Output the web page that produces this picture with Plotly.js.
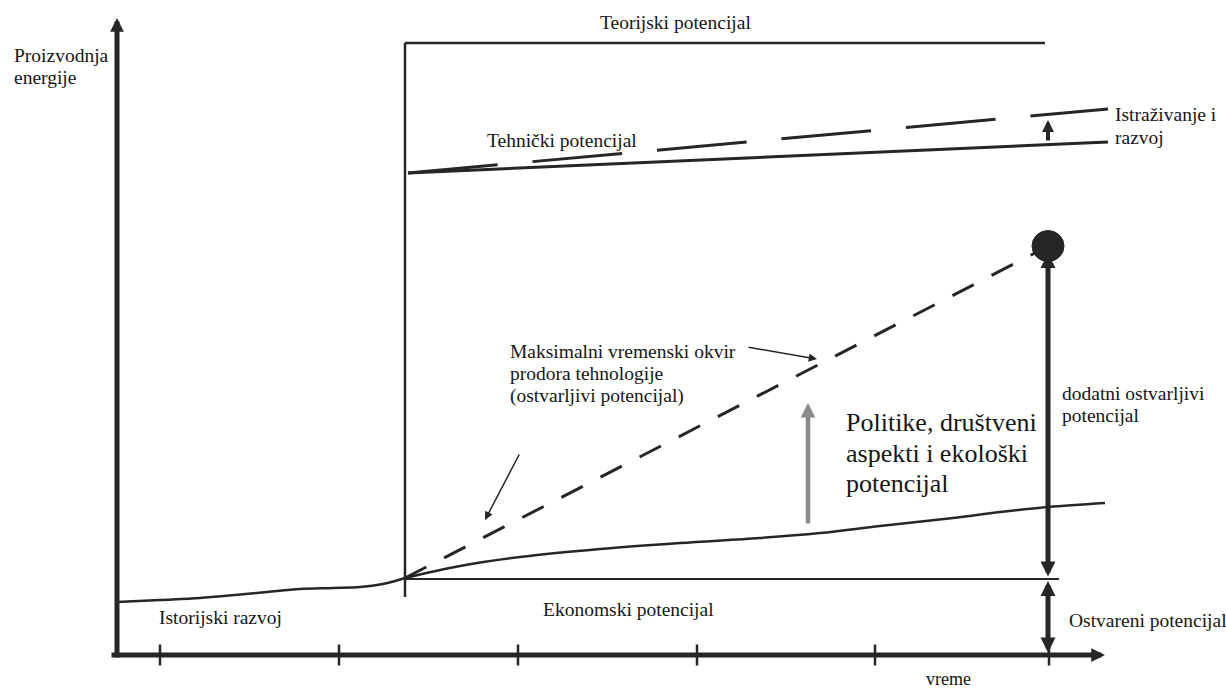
<!DOCTYPE html>
<html>
<head>
<meta charset="utf-8">
<script src="https://cdn.plot.ly/plotly-3.0.1.min.js"></script>
<style>html,body{margin:0;padding:0;background:#fff;}#chart{width:1226px;height:691px;}</style>
</head>
<body>
<div id="chart"></div>
<script>
// ---- Data (time units on x, energy production units on y) ----
const histT  = [0, 43, 83, 118, 150, 183, 216, 243, 266, 278, 288];
const histE  = [53, 55, 57, 60, 63, 66, 67, 68, 71, 74, 77];
const realT  = [288, 343, 403, 483, 563, 643, 703, 763, 836, 883, 931, 988];
const realE  = [77, 89, 98, 106, 112, 117, 122, 129, 137, 143, 148, 152];
const techT  = [291, 991];
const techE  = [482, 513];
const rdT    = [291, 991];
const rdE    = [482, 546];
const feasT  = [288, 918];
const feasE  = [77, 402];
const theorT = [288, 928];
const theorE = [612, 612];
const econT  = [288, 942];
const econE  = [76, 76];
const sepT   = [288, 288];
const sepE   = [58, 612];
const tickT  = [43, 222, 401, 580, 758, 932];
const targetT = 931;           // time horizon of the feasible target
const targetE = 409;           // feasible potential at horizon
const realizedAtHorizon = 77;  // economic level at horizon
const policyT = 691;
const policyE = [130, 252];

const labels = {
  yTitle: ["Proizvodnja", "energije"],
  xTitle: "vreme",
  theor: "Teorijski potencijal",
  tech: "Tehnički potencijal",
  rd: ["Istraživanje i", "razvoj"],
  feas: ["Maksimalni vremenski okvir", "prodora tehnologije", "(ostvarljivi potencijal)"],
  policy: ["Politike, društveni", "aspekti i ekološki", "potencijal"],
  extra: ["dodatni ostvarljivi", "potencijal"],
  hist: "Istorijski razvoj",
  econ: "Ekonomski potencijal",
  realized: "Ostvareni potencijal"
};

const INK = '#262626';
const TXT = '#161616';
const FONT = "'Liberation Serif', 'DejaVu Serif', serif";

function line(x, y, opts) {
  return {
    x: x, y: y, type: 'scatter', mode: 'lines', hoverinfo: 'skip',
    line: Object.assign({color: INK, width: 3}, opts.line || {})
  };
}

const traces = [
  line(histT, histE, {line: {shape: 'spline', width: 2.5}}),
  line(realT, realE, {line: {shape: 'spline', width: 2.5}}),
  line(techT, techE, {line: {width: 3}}),
  line(rdT, rdE, {line: {width: 3, dash: '90px,35px'}}),
  line(feasT, feasE, {line: {width: 3, dash: '24px,20px'}}),
  line(theorT, theorE, {line: {width: 2.5}}),
  line(econT, econE, {line: {width: 2}}),
  line(sepT, sepE, {line: {width: 2.5}}),
  {x: tickT, y: tickT.map(() => 0), type: 'scatter', mode: 'markers', hoverinfo: 'skip',
   marker: {symbol: 'line-ns-open', size: 15, color: INK, line: {color: INK, width: 2.5}}}
];

function txt(x, y, text, size, anchor, yanchor) {
  return {x: x, y: y, xref: 'x', yref: 'y', text: text, showarrow: false,
          xanchor: anchor || 'left', yanchor: yanchor || 'middle',
          font: {family: FONT, size: size || 19.5, color: TXT}};
}
function arrow(x0, y0, x1, y1, w, size, color, both) {
  const a = {x: x1, y: y1, ax: x0, ay: y0, xref: 'x', yref: 'y', axref: 'x', ayref: 'y',
             text: '', showarrow: true, arrowhead: 2, arrowsize: size, arrowwidth: w,
             arrowcolor: color || INK, standoff: 0, startstandoff: 0};
  if (both) { a.arrowside = 'end+start'; a.startarrowhead = 2; a.startarrowsize = size; }
  return a;
}

const annotations = [
  // axes
  arrow(0, -4, 0, 637, 5, 0.55),
  arrow(-7, 0, 988, 0, 5, 0.55),
  // vertical arrows at horizon
  arrow(targetT, realizedAtHorizon, targetT, 402, 5, 0.6, INK, true),
  arrow(targetT, 1, targetT, 74, 5, 0.6, INK, true),
  arrow(targetT, 513, targetT, 535, 4, 0.6),
  // policy arrow (gray)
  arrow(policyT, policyE[0], policyT, policyE[1], 4.5, 0.65, '#8a8a8a'),
  // thin pointer arrows
  arrow(630, 308, 700, 296, 1.5, 1.1),
  arrow(403, 202, 368, 135, 1.5, 1.1),
  // texts
  txt(-105, 600, labels.yTitle[0]),
  txt(-105, 578, labels.yTitle[1]),
  txt(558, 633, labels.theor, 19.5, 'center'),
  txt(368, 515, labels.tech),
  txt(996, 541, labels.rd[0]),
  txt(996, 518, labels.rd[1]),
  txt(391, 304, labels.feas[0]),
  txt(391, 282, labels.feas[1]),
  txt(391, 259, labels.feas[2]),
  txt(727, 233, labels.policy[0], 26),
  txt(727, 202, labels.policy[1], 26),
  txt(727, 172, labels.policy[2], 26),
  txt(943, 262, labels.extra[0]),
  txt(943, 240, labels.extra[1]),
  txt(40, 38, labels.hist),
  txt(511, 46, labels.econ, 19.5, 'center'),
  txt(950, 35, labels.realized),
  txt(831, -35.5, labels.xTitle, 18, 'center', 'bottom')
];

const shapes = [
  {type: 'circle', xref: 'x', yref: 'y', x0: targetT - 16, x1: targetT + 16,
   y0: targetE - 15.5, y1: targetE + 15.5, fillcolor: INK, line: {color: INK, width: 1}}
];

const layout = {
  width: 1226, height: 691,
  margin: {l: 0, r: 0, t: 0, b: 0, pad: 0},
  paper_bgcolor: '#ffffff', plot_bgcolor: '#ffffff',
  showlegend: false,
  font: {family: FONT},
  xaxis: {range: [-117, 1109], visible: false, fixedrange: true},
  yaxis: {range: [-36, 655], visible: false, fixedrange: true},
  annotations: annotations,
  shapes: shapes
};

Plotly.newPlot('chart', traces, layout, {staticPlot: true, displayModeBar: false});
</script>
</body>
</html>
